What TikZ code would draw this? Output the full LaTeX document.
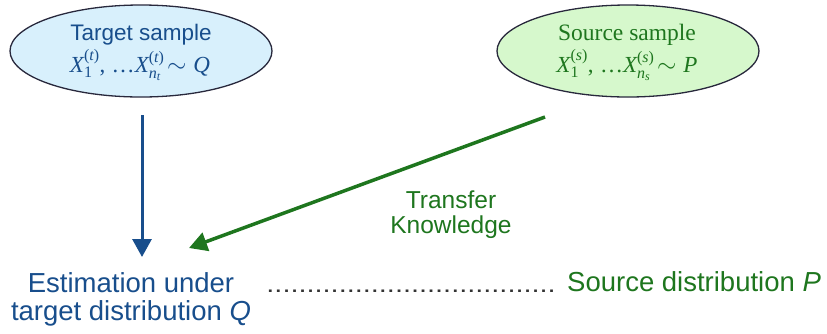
\documentclass[tikz,border=0pt]{standalone}
\usepackage{amsmath}
\usepackage{fontspec}
\setmainfont{Liberation Sans}
\newfontfamily\serifface{Liberation Serif}
\usetikzlibrary{shapes.geometric,arrows.meta}
\definecolor{tblue}{RGB}{24,78,140}
\definecolor{tgreen}{RGB}{30,118,30}
\definecolor{tfill}{RGB}{216,240,252}
\definecolor{sfill}{RGB}{214,248,204}
\definecolor{rim}{RGB}{40,40,60}
% larger scripts for the sample formulas
\DeclareMathSizes{23}{23}{16}{12}
% serif letters inside formulas
\newcommand\mv[1]{\text{\serifface\itshape #1}}
\newcommand\mr[1]{\text{\serifface #1}}
\begin{document}
\begin{tikzpicture}[x=1pt,y=-1pt,
  sample/.style={ellipse,draw=rim,line width=1.3pt,minimum width=262pt,minimum height=92pt,inner sep=0pt},
  label/.style={inner sep=0pt,anchor=base},
  flow/.style={line width=3pt,-{Triangle[width=19pt,length=18pt]}}
]
\useasboundingbox (0,0) rectangle (827,333);

% the two sample ellipses
\node[sample,fill=tfill] (tgt) at (141,51) {};
\node[label,text=tblue,font=\fontsize{22.5}{26}\selectfont] (tgtname) at (141,40) {Target sample};
\node[label,text=tblue,font=\fontsize{23}{26}\selectfont] (tgtmath) at (140,72)
  {$\mv{X}_{\mr{1}}^{\mr{(}\mv{t}\mr{)}}\mr{,}\ \mr{\ldots}\mv{X}_{\mv{n}_{\mv{t}}}^{\mr{(}\mv{t}\mr{)}}\!\sim \mv{Q}$};

\node[sample,fill=sfill] (src) at (628,51) {};
\node[label,text=tgreen,font=\fontsize{23.5}{26}\selectfont\serifface] (srcname) at (627,40) {Source sample};
\node[label,text=tgreen,font=\fontsize{23}{26}\selectfont] (srcmath) at (627,72)
  {$\mv{X}_{\mr{1}}^{\mr{(}\mv{s}\mr{)}}\mr{,}\ \mr{\ldots}\mv{X}_{\mv{n}_{\mv{s}}}^{\mr{(}\mv{s}\mr{)}}\!\sim \mv{P}$};

% bottom row
\node[label,text=tblue,font=\fontsize{27.5}{28}\selectfont,align=center] (est) at (131,320) {Estimation under\\target distribution \textit{Q}};
\node[label,text=black!80,font=\fontsize{23.5}{28}\selectfont] (dots) at (411,292)
  {\scalebox{1.23}[1]{....................................}};
\node[label,text=tgreen,font=\fontsize{27.5}{28}\selectfont,anchor=base west] (srcdist) at (567,291) {Source distribution \textit{P}};

% transfer label
\node[text=tgreen,font=\fontsize{24.5}{25}\selectfont,align=center,inner sep=0pt] (transfer) at (451,215) {Transfer\\Knowledge};

% connectors
\coordinate (tstart) at (142,115);
\coordinate (tend) at (142,257);
\coordinate (gstart) at (545,117);
\coordinate (gend) at (189,248);
\draw[flow,draw=tblue,fill=tblue] (tstart) -- (tend);
\draw[flow,draw=tgreen,fill=tgreen,line width=3.5pt] (gstart) -- (gend);
\end{tikzpicture}
\end{document}
